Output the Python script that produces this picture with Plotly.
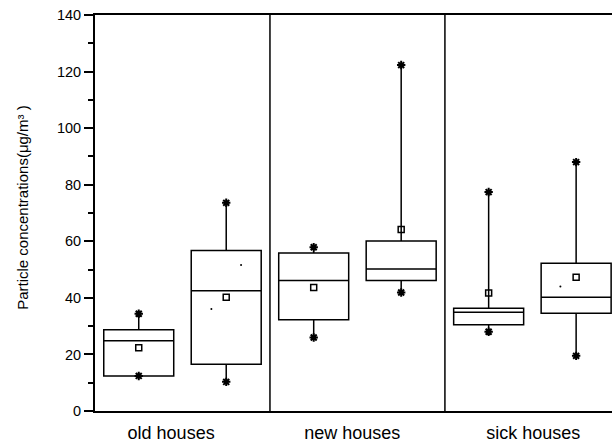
import plotly.graph_objects as go

# ---- data ----
positions = [1, 2, 3, 4, 5, 6]
q1 = [12.4, 16.5, 32.3, 46.1, 30.5, 34.6]
median = [24.8, 42.5, 46.1, 50.2, 34.9, 40.2]
q3 = [28.7, 56.7, 55.9, 60.1, 36.3, 52.2]
whisker_low = [12.4, 10.3, 26.0, 41.9, 28.0, 19.5]
whisker_high = [34.4, 73.6, 57.9, 122.3, 77.4, 88.0]
mean = [22.4, 40.2, 43.7, 64.2, 41.7, 47.3]
extra_x = [2.17, 1.83, 5.82]
extra_y = [51.6, 36.1, 44.0]

group_labels = ["old houses", "new houses", "sick houses"]
group_label_pos = [1.37, 3.44, 5.51]
dividers = [2.5, 4.5]

y_ticks = [0, 20, 40, 60, 80, 100, 120, 140]

FONT = "Arial, Liberation Sans, sans-serif"

fig = go.Figure()

for i, p in enumerate(positions):
    fig.add_trace(go.Box(
        x=[p], q1=[q1[i]], median=[median[i]], q3=[q3[i]],
        lowerfence=[whisker_low[i]], upperfence=[whisker_high[i]],
        width=0.8, whiskerwidth=0,
        fillcolor="white", line=dict(color="black", width=1.5),
        boxpoints=False, showlegend=False, hoverinfo="skip",
    ))

# whisker-end stars
fig.add_trace(go.Scatter(
    x=positions + positions, y=whisker_low + whisker_high, mode="markers",
    marker=dict(symbol="asterisk-open", size=7, color="black",
                line=dict(color="black", width=2)),
    showlegend=False, hoverinfo="skip",
))
# means
fig.add_trace(go.Scatter(
    x=positions, y=mean, mode="markers",
    marker=dict(symbol="square-open", size=6, color="black",
                line=dict(color="black", width=1.5)),
    showlegend=False, hoverinfo="skip",
))
# small dots
fig.add_trace(go.Scatter(
    x=extra_x, y=extra_y, mode="markers",
    marker=dict(symbol="circle", size=2, color="black"),
    showlegend=False, hoverinfo="skip",
))

for d in dividers:
    fig.add_shape(type="line", xref="x", yref="paper", x0=d, x1=d, y0=0, y1=1,
                  line=dict(color="black", width=1.5))

fig.add_annotation(
    text="Particle concentrations(μg/m³ )", textangle=-90,
    xref="paper", yref="paper", x=(23 - 95) / 517, y=0.513,
    xanchor="center", yanchor="middle", showarrow=False,
    font=dict(size=15, family=FONT, color="black"),
)

fig.update_layout(
    width=612, height=443,
    margin=dict(l=95, r=0, t=15, b=32),
    plot_bgcolor="white", paper_bgcolor="white",
    font=dict(family=FONT, color="black"),
    xaxis=dict(
        range=[0.5, 6.41], showgrid=False, zeroline=False, automargin=False,
        showline=True, linecolor="black", linewidth=2, mirror=True,
        tickmode="array", tickvals=group_label_pos, ticktext=group_labels,
        ticks="", ticklabelstandoff=4, tickfont=dict(size=18, family=FONT),
    ),
    yaxis=dict(
        range=[0, 140], showgrid=False, zeroline=False, automargin=False,
        showline=True, linecolor="black", linewidth=2,
        tickmode="array", tickvals=y_ticks,
        ticks="outside", ticklen=9, tickwidth=1.5, tickcolor="black",
        tickfont=dict(size=14.5, family=FONT),
        minor=dict(dtick=10, ticks="outside", ticklen=5, tickwidth=1.5, tickcolor="black"),
    ),
)

fig.write_html(
    "out.html",
    config={"displayModeBar": False},
    post_script="document.body.style.margin='0';document.body.style.overflow='hidden';",
)
